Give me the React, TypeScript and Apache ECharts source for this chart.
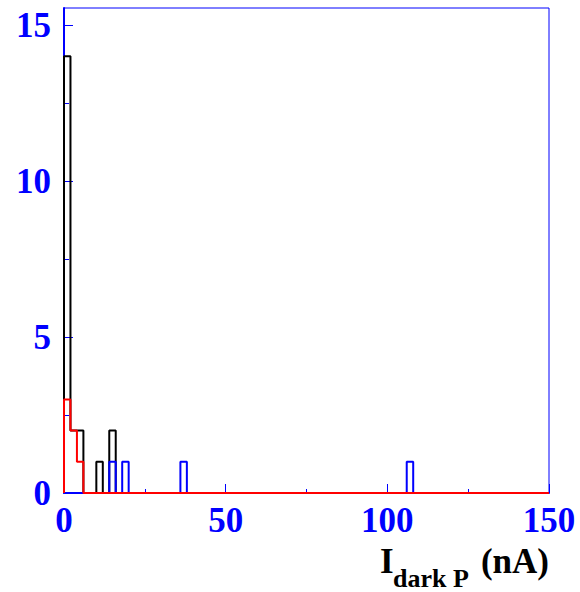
import React, { useEffect, useRef } from "react";
import * as echarts from "echarts";

// Histogram binning
const binWidth = 2;
const xMin = 0;
const xMax = 150;
const yMax = 15.55;

// [bin low edge, count]
const blackBins: [number, number][] = [[0, 14], [2, 2], [4, 2], [10, 1], [14, 2]];
const blueBins: [number, number][] = [[14, 1], [18, 1], [36, 1], [106, 1]];
const redBins: [number, number][] = [[0, 3], [2, 2], [4, 1]];

const xTicks = [0, 50, 100, 150];
const xMinorTicks = [25, 75, 125];
const yTicks = [0, 5, 10, 15];
const yMinorTicks = [2.5, 7.5, 12.5];

const SERIF = "'Liberation Serif', 'DejaVu Serif', 'Times New Roman', serif";
const BLUE = "#0000ff";

function outline(bins: [number, number][]): [number, number][] {
  const n = Math.round((xMax - xMin) / binWidth);
  const counts = new Array(n).fill(0);
  bins.forEach(([lo, c]) => {
    counts[Math.round((lo - xMin) / binWidth)] = c;
  });
  const pts: [number, number][] = [[xMin, 0]];
  for (let i = 0; i < n; i++) {
    const a = xMin + i * binWidth;
    pts.push([a, counts[i]]);
    pts.push([a + binWidth, counts[i]]);
  }
  pts.push([xMax, 0]);
  return pts;
}

export default function App() {
  const ref = useRef<HTMLDivElement>(null);
  useEffect(() => {
    if (!ref.current) return;
    const chart = echarts.init(ref.current, null, { renderer: "svg" });
    const mk = (name: string, bins: [number, number][], color: string, z: number) => ({
      name,
      type: "line",
      data: outline(bins),
      symbol: "none",
      showSymbol: false,
      lineStyle: { color, width: 2 },
      itemStyle: { color },
      z,
      clip: true,
    });
    const labelStyle = {
      color: BLUE,
      fontFamily: SERIF,
      fontWeight: "bold",
      fontSize: 35,
    };
    chart.setOption({
      animation: false,
      backgroundColor: "#ffffff",
      grid: {
        left: 64,
        top: 8,
        width: 485,
        height: 485,
        show: true,
        borderColor: BLUE,
        borderWidth: 1,
        backgroundColor: "transparent",
      },
      xAxis: [
        {
          type: "value",
          min: xMin,
          max: xMax,
          interval: 50,
          axisLine: { show: true, onZero: false, lineStyle: { color: BLUE, width: 2 } },
          axisTick: {
            show: true,
            inside: true,
            length: 9,
            customValues: xTicks,
            lineStyle: { color: BLUE, width: 1 },
          },
          splitLine: { show: false },
          axisLabel: { ...labelStyle, margin: 10, customValues: xTicks },
        },
        {
          type: "value",
          position: "bottom",
          min: xMin,
          max: xMax,
          interval: 50,
          axisLine: { show: false },
          axisTick: {
            show: true,
            inside: true,
            length: 4,
            customValues: xMinorTicks,
            lineStyle: { color: BLUE, width: 1 },
          },
          splitLine: { show: false },
          axisLabel: { show: false },
        },
      ],
      yAxis: [
        {
          type: "value",
          min: 0,
          max: yMax,
          interval: 5,
          axisLine: { show: true, onZero: false, lineStyle: { color: BLUE, width: 2 } },
          axisTick: {
            show: true,
            inside: true,
            length: 9,
            customValues: yTicks,
            lineStyle: { color: BLUE, width: 1 },
          },
          splitLine: { show: false },
          axisLabel: { ...labelStyle, margin: 13, customValues: yTicks },
        },
        {
          type: "value",
          position: "left",
          min: 0,
          max: yMax,
          interval: 5,
          axisLine: { show: false },
          axisTick: {
            show: true,
            inside: true,
            length: 5,
            customValues: yMinorTicks,
            lineStyle: { color: BLUE, width: 1 },
          },
          splitLine: { show: false },
          axisLabel: { show: false },
        },
      ],
      series: [
        mk("black", blackBins, "#000000", 2),
        mk("blue", blueBins, BLUE, 3),
        mk("red", redBins, "#ff0000", 4),
      ],
      graphic: [
        {
          type: "text",
          x: 380,
          y: 561,
          style: {
            text: "I",
            font: `bold 35px ${SERIF}`,
            fill: "#000000",
            textAlign: "left",
            textVerticalAlign: "middle",
          },
        },
        {
          type: "text",
          x: 393,
          y: 578,
          style: {
            text: "dark P",
            font: `bold 26px ${SERIF}`,
            fill: "#000000",
            textAlign: "left",
            textVerticalAlign: "middle",
          },
        },
        {
          type: "text",
          x: 549,
          y: 561,
          style: {
            text: "(nA)",
            font: `bold 35px ${SERIF}`,
            fill: "#000000",
            textAlign: "right",
            textVerticalAlign: "middle",
          },
        },
      ],
    });
    return () => chart.dispose();
  }, []);
  return (
    <div
      ref={ref}
      style={{ position: "fixed", left: 0, top: 0, width: 580, height: 592, background: "#fff" }}
    />
  );
}
